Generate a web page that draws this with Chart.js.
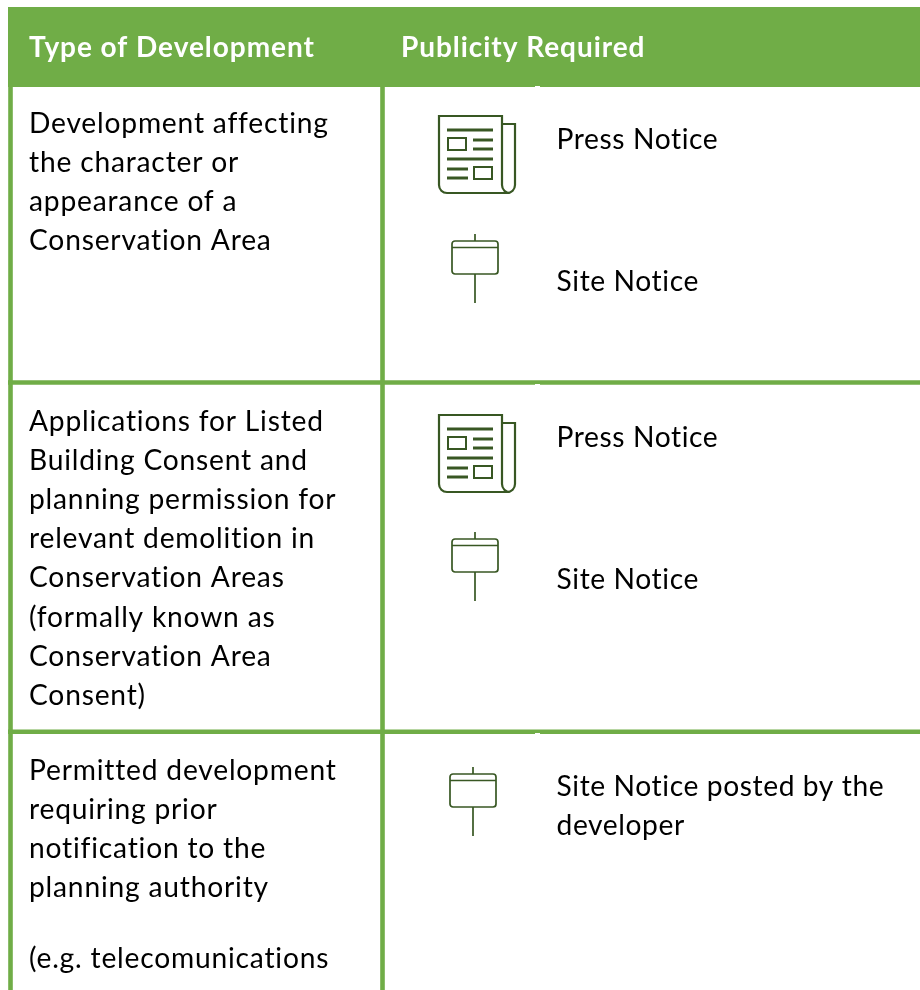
<!DOCTYPE html>
<html>
<head>
<meta charset="utf-8">
<title>Publicity Required</title>
<script src="https://cdn.jsdelivr.net/npm/chart.js@4/dist/chart.umd.min.js"></script>
<style>
    html, body { margin: 0; padding: 0; background: #fff; overflow: hidden; }
    canvas { display: block; }
</style>
</head>
<body>
<canvas id="tabla" width="920" height="990"></canvas>
<script>
// Table contents
const headerLabels = ['Type of Development', 'Publicity Required'];
const developmentTypes = [
    ['Development affecting', 'the character or', 'appearance of a', 'Conservation Area'],
    ['Applications for Listed', 'Building Consent and', 'planning permission for', 'relevant demolition in',
     'Conservation Areas', '(formally known as', 'Conservation Area', 'Consent)'],
    ['Permitted development', 'requiring prior', 'notification to the', 'planning authority', '', '(e.g. telecomunications']
];
const publicityNotices = [
    [['Press Notice'], ['Site Notice']],
    [['Press Notice'], ['Site Notice']],
    [['Site Notice posted by the', 'developer']]
];

// Table grid
const columnRules = [10.5, 382.5];
const rowRules = [382.5, 731.7];
const headerBand = [7, 87];
const tableLeft = 8;
const tableRight = 920;
const tableBottom = 990;
const rowTops = [86, 384, 733];
const noticeBaselines = [[149, 291], [447, 589], [796]];
const newspaperSpots = [{ x: 477, y: 155 }, { x: 477, y: 454 }];
const signSpots = [{ x: 475, y: 269 }, { x: 475, y: 567 }, { x: 473, y: 802 }];
const notchX = [535, 540];
const notchY = [86.5, 384.5, 733.5];

const verde = '#70AD47';
const verdeOscuro = '#385723';
const fuente = 'Lato, Carlito, sans-serif';

// Icon for press notices
function iconoPeriodico() {
    const c = document.createElement('canvas');
    c.width = 80;
    c.height = 80;
    const g = c.getContext('2d');
    g.strokeStyle = verdeOscuro;
    g.lineWidth = 2.2;
    g.beginPath();
    g.moveTo(65, 8);
    g.lineTo(65, 1);
    g.lineTo(2, 1);
    g.lineTo(2, 70);
    g.arcTo(2, 78, 10, 78, 8);
    g.lineTo(70, 78);
    g.arcTo(78, 78, 78, 70, 8);
    g.lineTo(78, 9);
    g.lineTo(65, 9);
    g.lineTo(65, 70);
    g.arcTo(65, 78, 72, 78, 8);
    g.stroke();
    g.lineWidth = 3;
    [[10, 56, 15], [36, 56, 25], [36, 56, 34], [10, 56, 44], [10, 31, 54], [10, 31, 63]].forEach(l => {
        g.beginPath();
        g.moveTo(l[0], l[2]);
        g.lineTo(l[1], l[2]);
        g.stroke();
    });
    g.lineWidth = 2;
    g.strokeRect(11, 23, 18, 12);
    g.strokeRect(37, 52, 18, 12);
    return c;
}

// Icon for site notices
function iconoCartel() {
    const c = document.createElement('canvas');
    c.width = 50;
    c.height = 70;
    const g = c.getContext('2d');
    g.strokeStyle = verdeOscuro;
    g.lineWidth = 1.7;
    g.beginPath();
    g.moveTo(25, 0);
    g.lineTo(25, 7);
    g.moveTo(25, 40);
    g.lineTo(25, 69);
    g.moveTo(2, 13.5);
    g.lineTo(48, 13.5);
    g.stroke();
    g.beginPath();
    g.roundRect(2, 7, 46, 33, 3);
    g.stroke();
    return c;
}

function linea(data, color, ancho) {
    return {
        data: data,
        showLine: true,
        borderColor: color,
        borderWidth: ancho,
        pointRadius: 0,
        borderCapStyle: 'butt',
        tension: 0
    };
}

function iconos(puntos, imagen) {
    return {
        data: puntos,
        showLine: false,
        pointStyle: imagen,
        pointRadius: 1
    };
}

const datasets = [
    iconos(newspaperSpots, iconoPeriodico()),
    iconos(signSpots, iconoCartel())
];
notchY.forEach(y => datasets.push(linea([{ x: notchX[0], y: y }, { x: notchX[1], y: y }], '#ffffff', 1)));
columnRules.forEach(x => datasets.push(linea([{ x: x, y: headerBand[1] }, { x: x, y: tableBottom }], verde, 4.6)));
rowRules.forEach(y => datasets.push(linea([{ x: tableLeft, y: y }, { x: tableRight, y: y }], verde, 4.6)));
const mitadBanda = (headerBand[0] + headerBand[1]) / 2;
datasets.push(linea([{ x: tableLeft, y: mitadBanda }, { x: tableRight, y: mitadBanda }], verde, headerBand[1] - headerBand[0]));

// Writes the table text through the chart scales
const textoTabla = {
    id: 'textoTabla',
    afterDatasetsDraw(chart) {
        const ctx = chart.ctx;
        const px = v => chart.scales.x.getPixelForValue(v);
        const py = v => chart.scales.y.getPixelForValue(v);
        ctx.save();
        ctx.textBaseline = 'alphabetic';
        ctx.textAlign = 'left';

        ctx.letterSpacing = '0.95px';
        ctx.fillStyle = '#ffffff';
        ctx.font = 'bold 28px ' + fuente;
        ctx.fillText(headerLabels[0], px(29), py(57));
        ctx.fillText(headerLabels[1], px(401), py(57));

        ctx.letterSpacing = '0.8px';
        ctx.fillStyle = '#000000';
        ctx.font = '28.2px ' + fuente;
        developmentTypes.forEach((lineas, fila) => {
            let y = rowTops[fila] + 46.5;
            lineas.forEach(texto => {
                if (texto === '') {
                    y += 32;
                    return;
                }
                ctx.fillText(texto, px(29), py(y));
                y += 39.2;
            });
        });
        ctx.letterSpacing = '0.6px';
        publicityNotices.forEach((avisos, fila) => {
            avisos.forEach((lineas, i) => {
                lineas.forEach((texto, j) => {
                    ctx.fillText(texto, px(556.5), py(noticeBaselines[fila][i] + j * 39));
                });
            });
        });
        ctx.restore();
    }
};

new Chart(document.getElementById('tabla').getContext('2d'), {
    type: 'scatter',
    data: { datasets: datasets },
    options: {
        responsive: false,
        animation: false,
        events: [],
        layout: { padding: 0, autoPadding: false },
        plugins: { legend: { display: false }, tooltip: { enabled: false } },
        scales: {
            x: { type: 'linear', min: 0, max: 920, display: false },
            y: { type: 'linear', min: 0, max: 990, reverse: true, display: false }
        }
    },
    plugins: [textoTabla]
});
</script>
</body>
</html>
